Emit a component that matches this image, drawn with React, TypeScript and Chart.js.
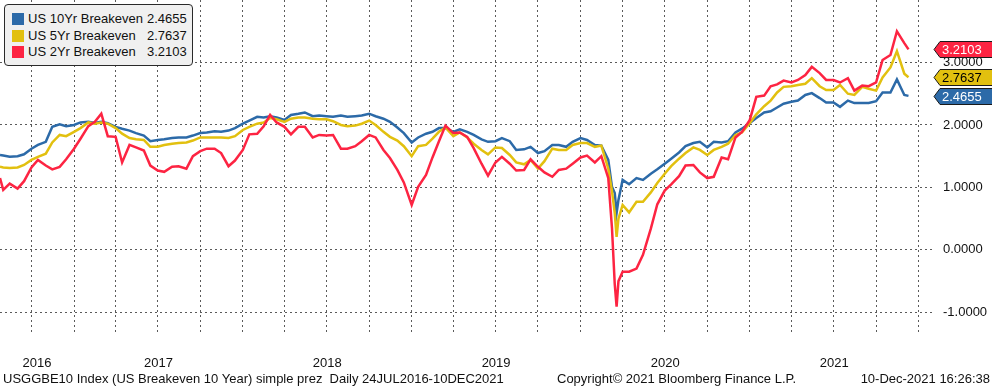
import React, { useEffect, useRef } from 'react';
import { Chart, registerables } from 'chart.js';

Chart.register(...registerables);

const dates = [
  '2016-07-25', '2016-08-01', '2016-08-15', '2016-09-01', '2016-09-15', '2016-10-01', '2016-10-15', '2016-11-01', '2016-11-15', '2016-12-01', '2016-12-15',
  '2017-01-01', '2017-01-15', '2017-02-01', '2017-02-15', '2017-03-01', '2017-03-15', '2017-04-01', '2017-04-15', '2017-05-01', '2017-05-15', '2017-06-01', '2017-06-15',
  '2017-07-01', '2017-07-15', '2017-08-01', '2017-08-15', '2017-09-01', '2017-09-15', '2017-10-01', '2017-10-15', '2017-11-01', '2017-11-15', '2017-12-01', '2017-12-15',
  '2018-01-01', '2018-01-15', '2018-02-01', '2018-02-15', '2018-03-01', '2018-03-15', '2018-04-01', '2018-04-15', '2018-05-01', '2018-05-15', '2018-06-01', '2018-06-15',
  '2018-07-01', '2018-07-15', '2018-08-01', '2018-08-15', '2018-09-01', '2018-09-15', '2018-10-01', '2018-10-15', '2018-11-01', '2018-11-15', '2018-12-01', '2018-12-15',
  '2019-01-01', '2019-01-15', '2019-02-01', '2019-02-15', '2019-03-01', '2019-03-15', '2019-04-01', '2019-04-15', '2019-05-01', '2019-05-15', '2019-06-01', '2019-06-15',
  '2019-07-01', '2019-07-15', '2019-08-01', '2019-08-15', '2019-09-01', '2019-09-15', '2019-10-01', '2019-10-15', '2019-11-01', '2019-11-15', '2019-12-01', '2019-12-15',
  '2020-01-01', '2020-01-15', '2020-02-01', '2020-02-15', '2020-03-01', '2020-03-09', '2020-03-15', '2020-03-19', '2020-03-23', '2020-04-01', '2020-04-15', '2020-05-01', '2020-05-15',
  '2020-06-01', '2020-06-15', '2020-07-01', '2020-07-15', '2020-08-01', '2020-08-15', '2020-09-01', '2020-09-15', '2020-10-01', '2020-10-15', '2020-11-01', '2020-11-15',
  '2020-12-01', '2020-12-15',
  '2021-01-01', '2021-01-15', '2021-02-01', '2021-02-15', '2021-03-01', '2021-03-15', '2021-04-01', '2021-04-15', '2021-05-01', '2021-05-15', '2021-06-01', '2021-06-15',
  '2021-07-01', '2021-07-15', '2021-08-01', '2021-08-15', '2021-09-01', '2021-09-15', '2021-10-01', '2021-10-15', '2021-11-01', '2021-11-15', '2021-12-01', '2021-12-10',
];

const us10yr = [
  1.52, 1.51, 1.49, 1.50, 1.53, 1.62, 1.68, 1.73, 1.97, 2.01, 1.98,
  2.00, 2.04, 2.05, 2.03, 2.05, 2.03, 1.97, 1.94, 1.91, 1.87, 1.83, 1.74,
  1.76, 1.77, 1.79, 1.80, 1.80, 1.83, 1.87, 1.88, 1.90, 1.89, 1.91, 1.95,
  2.02, 2.07, 2.13, 2.12, 2.14, 2.12, 2.08, 2.16, 2.18, 2.20, 2.14, 2.15,
  2.14, 2.13, 2.15, 2.13, 2.14, 2.15, 2.18, 2.14, 2.10, 2.05, 1.96, 1.87,
  1.72, 1.80, 1.86, 1.89, 1.95, 1.95, 1.89, 1.93, 1.89, 1.84, 1.77, 1.73,
  1.74, 1.79, 1.74, 1.60, 1.61, 1.65, 1.55, 1.58, 1.68, 1.68, 1.65, 1.73,
  1.79, 1.76, 1.68, 1.67, 1.44, 1.01, 0.91, 0.59, 0.80, 1.12, 1.05, 1.15, 1.12,
  1.22, 1.29, 1.38, 1.46, 1.56, 1.66, 1.71, 1.73, 1.64, 1.73, 1.72, 1.74,
  1.88, 1.94,
  2.03, 2.11, 2.20, 2.22, 2.28, 2.34, 2.37, 2.39, 2.48, 2.51, 2.43, 2.36,
  2.36, 2.29, 2.39, 2.35, 2.35, 2.35, 2.38, 2.52, 2.52, 2.73, 2.48, 2.4655,
];

const us5yr = [
  1.33, 1.32, 1.31, 1.32, 1.36, 1.44, 1.49, 1.54, 1.72, 1.84, 1.82,
  1.89, 1.95, 2.04, 2.02, 2.04, 2.02, 1.95, 1.86, 1.79, 1.77, 1.76, 1.65,
  1.65, 1.68, 1.70, 1.71, 1.72, 1.75, 1.80, 1.80, 1.80, 1.80, 1.79, 1.82,
  1.92, 1.97, 2.02, 2.04, 2.11, 2.09, 2.05, 2.10, 2.12, 2.12, 2.10, 2.09,
  2.09, 2.06, 2.00, 1.98, 1.99, 2.02, 2.07, 2.00, 1.89, 1.81, 1.75, 1.66,
  1.50, 1.66, 1.68, 1.78, 1.89, 1.96, 1.82, 1.88, 1.80, 1.70, 1.60, 1.53,
  1.64, 1.63, 1.52, 1.40, 1.37, 1.44, 1.30, 1.42, 1.62, 1.60, 1.60, 1.68,
  1.71, 1.71, 1.65, 1.67, 1.30, 0.94, 0.59, 0.21, 0.50, 0.72, 0.60, 0.77, 0.77,
  0.92, 1.07, 1.22, 1.34, 1.46, 1.55, 1.64, 1.60, 1.52, 1.60, 1.65, 1.70,
  1.84, 1.88,
  2.03, 2.17, 2.30, 2.39, 2.52, 2.61, 2.62, 2.64, 2.66, 2.75, 2.62, 2.56,
  2.56, 2.64, 2.50, 2.48, 2.61, 2.58, 2.55, 2.76, 2.92, 3.18, 2.82, 2.7637,
];

const us2yr = [
  1.15, 0.96, 1.06, 0.98, 1.10, 1.32, 1.44, 1.35, 1.29, 1.33, 1.45,
  1.62, 1.78, 1.98, 2.05, 2.18, 1.82, 1.81, 1.40, 1.68, 1.64, 1.59, 1.35,
  1.27, 1.25, 1.33, 1.34, 1.30, 1.50, 1.58, 1.62, 1.62, 1.55, 1.34, 1.43,
  1.60, 1.85, 1.86, 1.98, 2.16, 2.04, 1.97, 1.85, 1.97, 1.97, 1.80, 1.84,
  1.83, 1.84, 1.62, 1.62, 1.66, 1.74, 1.84, 1.80, 1.60, 1.47, 1.28, 1.08,
  0.72, 1.01, 1.20, 1.48, 1.74, 1.99, 1.87, 1.88, 1.81, 1.63, 1.38, 1.19,
  1.40, 1.49, 1.38, 1.27, 1.28, 1.45, 1.33, 1.24, 1.17, 1.28, 1.30, 1.38,
  1.48, 1.51, 1.40, 1.50, 1.15, 0.35, -0.55, -0.91, -0.50, -0.35, -0.35, -0.30, -0.08,
  0.34, 0.73, 0.95, 1.05, 1.18, 1.35, 1.36, 1.24, 1.15, 1.17, 1.48, 1.45,
  1.80, 1.89,
  2.08, 2.45, 2.47, 2.62, 2.65, 2.71, 2.68, 2.72, 2.80, 2.93, 2.83, 2.72,
  2.72, 2.68, 2.75, 2.55, 2.63, 2.62, 2.68, 3.04, 3.12, 3.50, 3.31, 3.2103,
];

const seriesNames = ['US 10Yr Breakeven', 'US 5Yr Breakeven', 'US 2Yr Breakeven'];
const seriesValues = [us10yr, us5yr, us2yr];
const seriesColors = ['#2c6aa8', '#e2c00f', '#fd2442'];
const tagTextColors = ['#ffffff', '#000000', '#ffffff'];

const yTickValues = [-1, 0, 1, 2, 3];
const yearLabels = ['2016', '2017', '2018', '2019', '2020', '2021'];

const axisFirst = '2016-07-25';
const axisLast = '2022-02-01';

const footerLeft = 'USGGBE10 Index (US Breakeven 10 Year) simple prez  Daily 24JUL2016-10DEC2021';
const footerMid = 'Copyright\u00A9 2021 Bloomberg Finance L.P.';
const footerRight = '10-Dec-2021 16:26:38';

const FONT = '"Liberation Sans", Arial, sans-serif';

const dayOf = (s: string) => {
  const b = Date.UTC(2016, 6, 24);
  const t = Date.UTC(+s.slice(0, 4), +s.slice(5, 7) - 1, +s.slice(8, 10));
  return (t - b) / 86400000;
};

export default function App() {
  const ref = useRef<HTMLCanvasElement>(null);

  useEffect(() => {
    document.body.style.margin = '0';
    const canvas = ref.current;
    if (!canvas) return;
    const xMin = dayOf(axisFirst);
    const xMax = dayOf(axisLast);

    const quarterTicks: number[] = [];
    for (let y = 2016; y <= 2022; y++) {
      for (const m of [0, 3, 6, 9]) {
        const d = (Date.UTC(y, m, 1) - Date.UTC(2016, 6, 24)) / 86400000;
        if (d > xMin && d < xMax) quarterTicks.push(d);
      }
    }
    const yearTicks = yearLabels.map((lab) => {
      const y = +lab;
      const a = Math.max(dayOf(`${y}-01-01`), xMin);
      const b = Math.min(dayOf(`${y + 1}-01-01`), xMax);
      return (a + b) / 2;
    });

    const datasets = seriesValues.map((vals, i) => ({
      label: seriesNames[i],
      data: dates.map((d, j) => ({ x: dayOf(d), y: vals[j] })),
      borderColor: seriesColors[i],
      backgroundColor: seriesColors[i],
      borderWidth: 2.5,
      pointRadius: 0,
      tension: 0,
      fill: false,
      order: 3 - i,
    }));

    const tagPlugin = {
      id: 'valueTags',
      afterDraw(chart: any) {
        const ctx = chart.ctx;
        const ys = chart.scales.y;
        const left = chart.chartArea.right + 1;
        ctx.save();
        seriesValues.forEach((vals, i) => {
          const v = vals[vals.length - 1];
          const cy = Math.round(ys.getPixelForValue(v)) + 0.5;
          const h = 8;
          ctx.beginPath();
          ctx.moveTo(left, cy);
          ctx.lineTo(left + 6, cy - h);
          ctx.lineTo(chart.width + 2, cy - h);
          ctx.lineTo(chart.width + 2, cy + h);
          ctx.lineTo(left + 6, cy + h);
          ctx.closePath();
          ctx.fillStyle = seriesColors[i];
          ctx.fill();
          ctx.strokeStyle = '#1a1a1a';
          ctx.lineWidth = 1;
          ctx.stroke();
          ctx.fillStyle = tagTextColors[i];
          ctx.font = `13px ${FONT}`;
          ctx.textBaseline = 'middle';
          ctx.textAlign = 'left';
          ctx.fillText(v.toFixed(4), left + 8, cy + 0.5);
        });
        ctx.restore();
      },
    };

    const zeroPad = (s: any) => {
      s.paddingTop = 0;
      s.paddingBottom = 0;
      s.paddingLeft = 0;
      s.paddingRight = 0;
    };

    const chart = new Chart(canvas, {
      type: 'line',
      data: { datasets },
      options: {
        responsive: false,
        maintainAspectRatio: false,
        animation: false,
        events: [],
        layout: { padding: 0 },
        plugins: { legend: { display: false }, tooltip: { enabled: false } },
        scales: {
          x: {
            type: 'linear',
            position: 'bottom',
            min: xMin,
            max: xMax,
            afterBuildTicks: (s: any) => {
              s.ticks = quarterTicks.map((v) => ({ value: v }));
            },
            afterFit: (s: any) => {
              s.height = 0;
              zeroPad(s);
            },
            ticks: { display: false },
            grid: { color: '#5a5a5a', lineWidth: 1, drawTicks: false },
            border: { display: false, dash: [2, 3] },
          },
          x2: {
            type: 'linear',
            position: 'bottom',
            min: xMin,
            max: xMax,
            afterBuildTicks: (s: any) => {
              s.ticks = yearTicks.map((v) => ({ value: v }));
            },
            afterFit: (s: any) => {
              s.height = 54;
              zeroPad(s);
            },
            ticks: {
              autoSkip: false,
              maxRotation: 0,
              padding: 23,
              color: '#111',
              font: { family: FONT, size: 13 },
              callback: (_v: any, i: number) => yearLabels[i],
            },
            grid: { display: false, drawTicks: false },
            border: { display: false },
          },
          y: {
            type: 'linear',
            position: 'right',
            min: -1.33,
            max: 4.0,
            afterBuildTicks: (s: any) => {
              s.ticks = yTickValues.map((v) => ({ value: v }));
            },
            afterFit: (s: any) => {
              s.width = 59;
              zeroPad(s);
            },
            ticks: {
              padding: 10,
              color: '#111',
              font: { family: FONT, size: 13 },
              callback: (v: any) => Number(v).toFixed(4),
            },
            grid: { color: '#5a5a5a', lineWidth: 1, drawTicks: false },
            border: { display: false, dash: [2, 3] },
          },
        },
      },
      plugins: [tagPlugin],
    } as any);

    return () => chart.destroy();
  }, []);

  const lastVals = seriesValues.map((v) => v[v.length - 1].toFixed(4));
  const rowCenters = [19, 35.5, 52];

  return (
    <div style={{ position: 'relative', width: 992, height: 387, background: '#fff', overflow: 'hidden', fontFamily: FONT, fontSize: 13, color: '#111' }}>
      <canvas ref={ref} width={992} height={387} style={{ position: 'absolute', left: 0, top: 0, width: 992, height: 387 }} />
      <div style={{ position: 'absolute', left: 4, top: 4, width: 189, height: 62, boxSizing: 'border-box', background: '#f0f0f0', border: '1px solid #2a2a2a', borderRadius: 4 }} />
      {seriesNames.map((n, i) => (
        <div key={n} style={{ position: 'absolute', left: 0, top: rowCenters[i] - 8, height: 16, lineHeight: '16px', width: 200 }}>
          <div style={{ position: 'absolute', left: 12, top: 2, width: 12, height: 12, background: seriesColors[i] }} />
          <span style={{ position: 'absolute', left: 28, top: 0, whiteSpace: 'pre' }}>{n}</span>
          <span style={{ position: 'absolute', left: 147, top: 0, whiteSpace: 'pre' }}>{lastVals[i]}</span>
        </div>
      ))}
      <div style={{ position: 'absolute', left: 3, top: 371, lineHeight: '16px', whiteSpace: 'pre' }}>{footerLeft}</div>
      <div style={{ position: 'absolute', left: 557, top: 371, lineHeight: '16px', whiteSpace: 'pre' }}>{footerMid}</div>
      <div style={{ position: 'absolute', right: 2, top: 371, lineHeight: '16px', whiteSpace: 'pre' }}>{footerRight}</div>
    </div>
  );
}
